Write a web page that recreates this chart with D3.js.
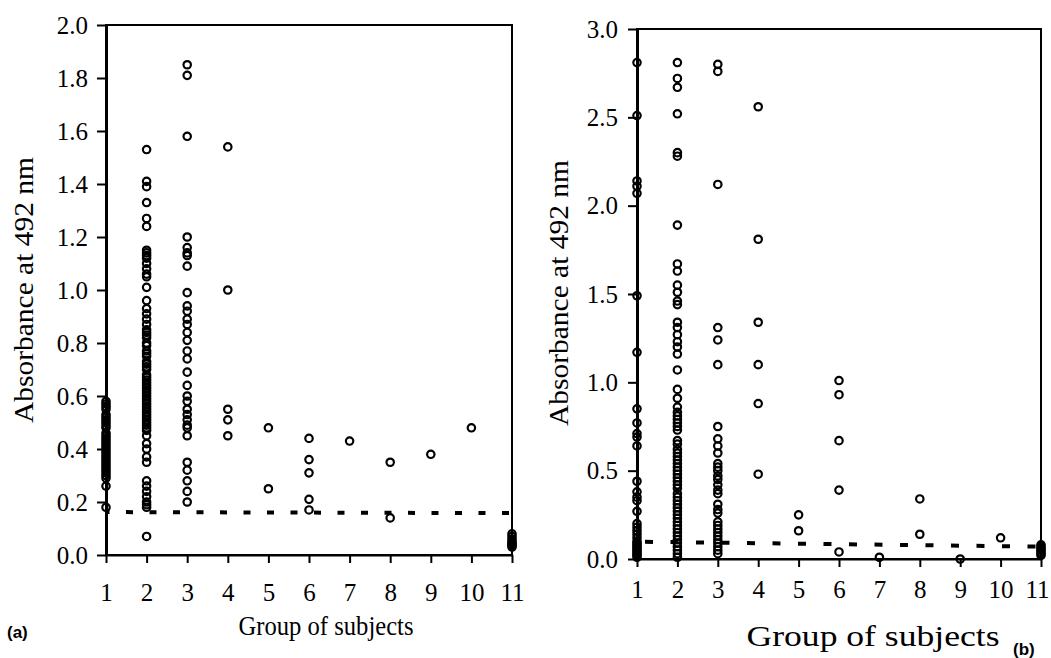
<!DOCTYPE html>
<html>
<head>
<meta charset="utf-8">
<script src="https://cdn.jsdelivr.net/npm/d3@7"></script>
<style>
    body { margin: 0; background: #fff; }
    svg { display: block; }
    .axis text { font-family: 'Liberation Serif', 'Times New Roman', serif; font-size: 25px; fill: #000; }
    .axis path, .axis line { stroke: #000; stroke-width: 2px; }
    .y-axis path { stroke-width: 3px; }
    .axis-title { font-family: 'Liberation Serif', 'Times New Roman', serif; fill: #000; }
    .panel-tag { font-family: 'Liberation Sans', Arial, sans-serif; font-weight: bold; font-size: 17px; }
    .dot { fill: none; stroke: #000; stroke-width: 2.2px; }
</style>
</head>
<body>
<div id="chart"></div>
<script>
// groups of subjects on the x axis
const groups = [1, 2, 3, 4, 5, 6, 7, 8, 9, 10, 11];

// (a) absorbance values, one list per group
const valuesA = [
    [0.58, 0.57, 0.56, 0.55, 0.53, 0.52, 0.51, 0.50, 0.49, 0.48, 0.46, 0.45, 0.44, 0.43, 0.42, 0.41, 0.40, 0.39, 0.38, 0.37, 0.36, 0.35, 0.34, 0.33, 0.32, 0.31, 0.30, 0.29, 0.26, 0.18],
    [1.53, 1.41, 1.39, 1.33, 1.27, 1.24, 1.15, 1.14, 1.13, 1.12, 1.10, 1.08, 1.06, 1.05, 1.01, 0.96, 0.93, 0.91, 0.89, 0.87,
     0.85, 0.84, 0.83, 0.82, 0.80, 0.79, 0.77, 0.76, 0.75, 0.73, 0.72, 0.71, 0.70, 0.68, 0.67, 0.66, 0.65, 0.64, 0.63, 0.62,
     0.61, 0.60, 0.59, 0.58, 0.57, 0.56, 0.55, 0.54, 0.53, 0.52, 0.51, 0.50, 0.49, 0.48, 0.47, 0.45, 0.42, 0.40, 0.37, 0.35,
     0.28, 0.26, 0.24, 0.22, 0.20, 0.19, 0.18, 0.07],
    [1.85, 1.81, 1.58, 1.20, 1.16, 1.14, 1.13, 1.09, 0.99, 0.94, 0.92, 0.89, 0.87, 0.84, 0.81, 0.77, 0.74, 0.69, 0.64, 0.60, 0.58, 0.55, 0.53, 0.51, 0.49, 0.48, 0.45, 0.35, 0.32, 0.28, 0.24, 0.20],
    [1.54, 1.00, 0.55, 0.51, 0.45],
    [0.48, 0.25],
    [0.44, 0.36, 0.31, 0.21, 0.17],
    [0.43],
    [0.35, 0.14],
    [0.38],
    [0.48],
    [0.08, 0.07, 0.06, 0.05, 0.045, 0.04, 0.035, 0.03]
];

// (b) absorbance values, one list per group
const valuesB = [
    [2.81, 2.51, 2.14, 2.11, 2.07, 1.49, 1.17, 0.85, 0.77, 0.71, 0.69, 0.64, 0.44, 0.38, 0.35, 0.33, 0.27, 0.20, 0.18, 0.16, 0.14, 0.12, 0.10, 0.09, 0.08, 0.07, 0.06, 0.05, 0.04, 0.03, 0.02, 0.01],
    [2.81, 2.72, 2.67, 2.52, 2.30, 2.28, 1.89, 1.67, 1.63, 1.55, 1.51, 1.46, 1.44, 1.34, 1.31, 1.27, 1.23, 1.20, 1.16, 1.07,
     0.96, 0.91, 0.86, 0.83, 0.81, 0.79, 0.77, 0.75, 0.73, 0.67, 0.65, 0.62, 0.60, 0.58, 0.56, 0.54, 0.52, 0.50, 0.48, 0.46,
     0.44, 0.42, 0.40, 0.37, 0.35, 0.33, 0.31, 0.29, 0.27, 0.25, 0.23, 0.21, 0.19, 0.17, 0.15, 0.13, 0.11, 0.09, 0.07, 0.05, 0.03, 0.01],
    [2.80, 2.76, 2.12, 1.31, 1.24, 1.10, 0.75, 0.68, 0.64, 0.60, 0.54, 0.52, 0.50, 0.47, 0.45, 0.42, 0.39, 0.37, 0.31, 0.28, 0.26, 0.21, 0.19, 0.17, 0.15, 0.13, 0.11, 0.09, 0.07, 0.05, 0.03],
    [2.56, 1.81, 1.34, 1.10, 0.88, 0.48],
    [0.25, 0.16],
    [1.01, 0.93, 0.67, 0.39, 0.04],
    [0.01],
    [0.34, 0.14],
    [0.00],
    [0.12],
    [0.08, 0.07, 0.06, 0.05, 0.04, 0.03, 0.02]
];

// y tick labels
const yTicksA = [0, 0.2, 0.4, 0.6, 0.8, 1.0, 1.2, 1.4, 1.6, 1.8, 2.0];
const yTicksB = [0, 0.5, 1.0, 1.5, 2.0, 2.5, 3.0];

// cut-off line, value at group 1 and at group 11
const cutoffA = [0.162, 0.158];
const cutoffB = [0.098, 0.07];

const svg = d3.select('#chart')
    .append('svg')
    .attr('width', 1051)
    .attr('height', 658);

/**
 * draws one scatter panel
 */
function drawPanel(cfg) {
    const xScale = d3.scaleLinear().domain([1, 11]).range([cfg.left, cfg.right]);
    const yScale = d3.scaleLinear().domain([0, cfg.yMax]).range([cfg.bottom, cfg.top]);

    const g = svg.append('g');

    // frame (top and right borders)
    g.append('rect')
        .attr('x', cfg.left)
        .attr('y', cfg.top)
        .attr('width', cfg.right - cfg.left)
        .attr('height', cfg.bottom - cfg.top)
        .attr('fill', 'none')
        .attr('stroke', '#000')
        .attr('stroke-width', 2);

    const xAxis = d3.axisBottom(xScale)
        .tickValues(groups)
        .tickFormat(d3.format('d'))
        .tickSize(8)
        .tickPadding(cfg.xPad)
        .tickSizeOuter(0);

    const yAxis = d3.axisLeft(yScale)
        .tickValues(cfg.yTicks)
        .tickFormat(d3.format('.1f'))
        .tickSize(9)
        .tickPadding(cfg.yPad)
        .tickSizeOuter(0);

    const xAxisG = g.append('g')
        .attr('class', 'axis x-axis')
        .attr('transform', `translate(0,${cfg.bottom})`)
        .call(xAxis);

    // keep the last label inside the page
    xAxisG.selectAll('.tick text')
        .filter(d => d === groups[groups.length - 1])
        .attr('dx', cfg.lastDx);

    g.append('g')
        .attr('class', 'axis y-axis')
        .attr('transform', `translate(${cfg.left},0)`)
        .call(yAxis);

    // dashed cut-off line
    const line = d3.line()
        .x(d => xScale(d[0]))
        .y(d => yScale(d[1]));
    g.append('path')
        .datum([[groups[0], cfg.cutoff[0]], [groups[groups.length - 1], cfg.cutoff[1]]])
        .attr('d', line)
        .attr('fill', 'none')
        .attr('stroke', '#000')
        .attr('stroke-width', 4)
        .attr('stroke-dasharray', cfg.dash)
        .attr('stroke-dashoffset', cfg.dashOffset);

    // points
    const points = [];
    cfg.values.forEach((vals, i) => {
        vals.forEach(v => points.push({group: groups[i], value: v}));
    });
    g.selectAll('.dot')
        .data(points)
        .join('circle')
        .attr('class', 'dot')
        .attr('cx', d => xScale(d.group))
        .attr('cy', d => yScale(d.value))
        .attr('r', 3.7);

    // axis titles
    g.append('text')
        .attr('class', 'axis-title')
        .attr('transform', `translate(${cfg.yTitleX},${cfg.yTitleY}) rotate(-90)`)
        .attr('text-anchor', 'middle')
        .attr('font-size', 27)
        .attr('textLength', 266)
        .attr('lengthAdjust', 'spacingAndGlyphs')
        .text('Absorbance at 492 nm');

    g.append('text')
        .attr('class', 'axis-title')
        .attr('x', cfg.xTitleX)
        .attr('y', cfg.xTitleY)
        .attr('text-anchor', 'middle')
        .attr('font-size', cfg.xTitleSize)
        .attr('textLength', cfg.xTitleLen)
        .attr('lengthAdjust', 'spacingAndGlyphs')
        .text('Group of subjects');

    g.append('text')
        .attr('class', 'panel-tag')
        .attr('x', cfg.tagX)
        .attr('y', cfg.tagY)
        .text(cfg.tag);
}

drawPanel({
    values: valuesA, yMax: 2.0, yTicks: yTicksA, cutoff: cutoffA,
    left: 106, right: 512, top: 25, bottom: 555,
    xPad: 20, yPad: 9, lastDx: 0,
    dash: '7,16.5', dashOffset: -20,
    yTitleX: 33, yTitleY: 290,
    xTitleX: 326, xTitleY: 635, xTitleSize: 27, xTitleLen: 175,
    tag: '(a)', tagX: 7, tagY: 638
});

drawPanel({
    values: valuesB, yMax: 3.0, yTicks: yTicksB, cutoff: cutoffB,
    left: 637, right: 1041, top: 29, bottom: 559,
    xPad: 13, yPad: 10, lastDx: -4,
    dash: '8,17.5', dashOffset: -8,
    yTitleX: 568, yTitleY: 293,
    xTitleX: 873, xTitleY: 646, xTitleSize: 30, xTitleLen: 253,
    tag: '(b)', tagX: 1013, tagY: 655
});
</script>
</body>
</html>
